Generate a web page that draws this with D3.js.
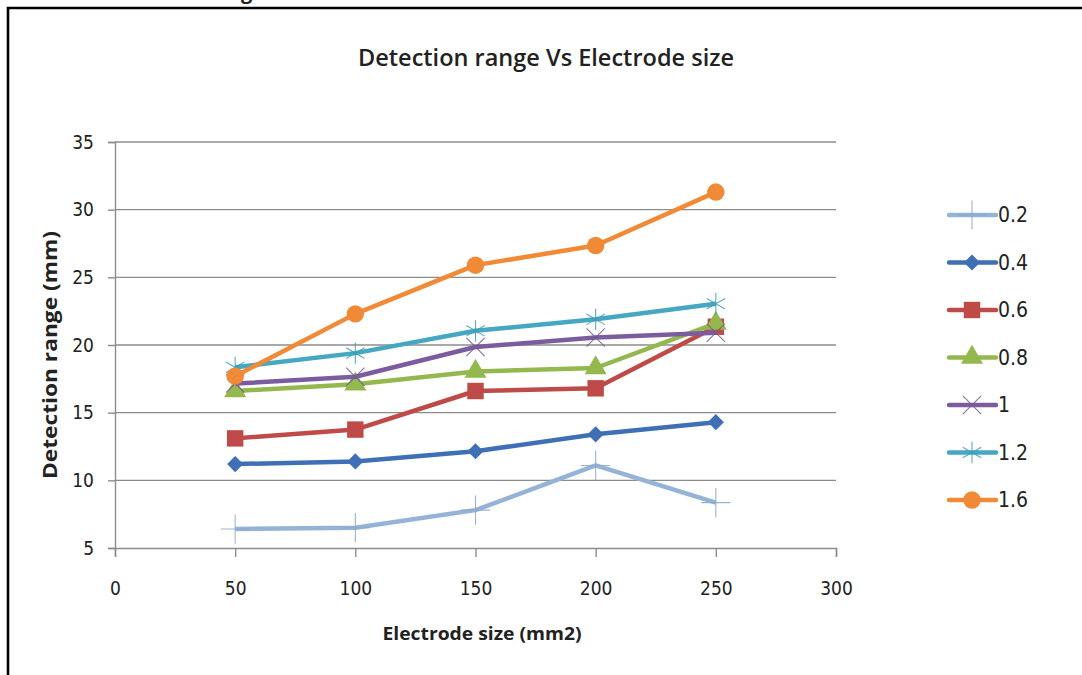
<!DOCTYPE html>
<html><head><meta charset="utf-8">
<script src="https://cdn.jsdelivr.net/npm/d3@7"></script>
<style>
html,body{margin:0;padding:0;background:#fff;}
svg{display:block;}
text{font-family:"Open Sans","Liberation Sans",sans-serif;fill:#222;}
</style></head>
<body>
<svg id="c" width="1082" height="675"></svg>
<script>
const xValues = [50, 100, 150, 200, 250];
const seriesNames = ["0.2", "0.4", "0.6", "0.8", "1", "1.2", "1.6"];
const s02 = [6.4, 6.5, 7.8, 11.1, 8.35];
const s04 = [11.2, 11.4, 12.15, 13.4, 14.3];
const s06 = [13.1, 13.75, 16.6, 16.8, 21.35];
const s08 = [16.6, 17.1, 18.05, 18.3, 21.6];
const s10 = [17.15, 17.65, 19.85, 20.55, 20.9];
const s12 = [18.35, 19.4, 21.05, 21.9, 23.05];
const s16 = [17.7, 22.3, 25.9, 27.35, 31.3];
const xTicks = [0, 50, 100, 150, 200, 250, 300];
const yTicks = [5, 10, 15, 20, 25, 30, 35];
const seriesColors = ["#95B3D7", "#3F6FB5", "#BE4B48", "#93B84E", "#7B5C9E", "#45A7C2", "#F08A36"];
const seriesMarkers = ["plus", "diamond", "square", "triangle", "times", "asterisk", "circle"];

const allValues = [s02, s04, s06, s08, s10, s12, s16];
const svg = d3.select("#c");
const condensed = "'DejaVu Sans Condensed','Liberation Sans Narrow','Open Sans',sans-serif";

// frame
svg.append("path").attr("d", "M8,680 L8,8 L1090,8").attr("fill", "none").attr("stroke", "#000").attr("stroke-width", 2.6);
svg.append("text").attr("x", 241).attr("y", -1).attr("font-size", 20).attr("font-weight", "bold").attr("fill", "#000").text("g");

const x = d3.scaleLinear().domain([0, 300]).range([115, 836]);
const y = d3.scaleLinear().domain([5, 35]).range([548, 142]);
const grid = "#8c8c8c";

// gridlines
svg.append("g").selectAll("line").data(yTicks.slice(1)).join("line")
  .attr("x1", x(0)).attr("x2", x(300)).attr("y1", d => y(d)).attr("y2", d => y(d))
  .attr("stroke", grid).attr("stroke-width", 1.4);

// y axis
const yAxis = svg.append("g").attr("transform", `translate(${x(0)},0)`)
  .call(d3.axisLeft(y).tickValues(yTicks).tickSize(7).tickPadding(14));
yAxis.select(".domain").attr("stroke", grid).attr("stroke-width", 1.4);
yAxis.selectAll(".tick line").attr("stroke", grid).attr("stroke-width", 1.4);
yAxis.selectAll(".tick text").attr("font-size", 19).attr("fill", "#333")
  .style("font-family", condensed);

// x axis
const xAxis = svg.append("g").attr("transform", `translate(0,${y(5)})`)
  .call(d3.axisBottom(x).tickValues(xTicks).tickSize(9).tickPadding(25));
xAxis.select(".domain").attr("stroke", grid).attr("stroke-width", 1.4);
xAxis.selectAll(".tick line").attr("stroke", grid).attr("stroke-width", 1.4);
xAxis.selectAll(".tick text").attr("font-size", 19).attr("fill", "#333")
  .style("font-family", condensed);

// titles
svg.append("text").attr("x", 546).attr("y", 66).attr("text-anchor", "middle")
  .attr("font-size", 23).attr("font-weight", 600).attr("fill", "#111").attr("textLength", 376).attr("lengthAdjust", "spacingAndGlyphs")
  .text("Detection range Vs Electrode size");
svg.append("text").attr("x", 482).attr("y", 640).attr("text-anchor", "middle")
  .attr("font-size", 18).attr("font-weight", "bold").attr("fill", "#111").attr("textLength", 199).attr("lengthAdjust", "spacingAndGlyphs")
  .text("Electrode size (mm2)");
svg.append("text").attr("transform", "translate(57,355) rotate(-90)").attr("text-anchor", "middle")
  .attr("font-size", 19).attr("font-weight", "bold").attr("fill", "#111").attr("textLength", 248).attr("lengthAdjust", "spacingAndGlyphs")
  .text("Detection range (mm)");

const symTypes = {
  plus: d3.symbolPlus, diamond: d3.symbolSquare, square: d3.symbolSquare,
  triangle: d3.symbolTriangle, times: d3.symbolTimes, asterisk: d3.symbolAsterisk, circle: d3.symbolCircle
};
const symSizes = {plus: 280, diamond: 130, square: 270, triangle: 210, times: 220, asterisk: 320, circle: 240};
const strokeMarkers = new Set(["plus", "times", "asterisk"]);

function drawMarker(g, type, color, cx, cy) {
  const p = g.append("path")
    .attr("d", d3.symbol().type(symTypes[type]).size(symSizes[type])())
    .attr("transform", `translate(${cx},${cy})` + (type === "diamond" ? " rotate(45)" : ""));
  if (strokeMarkers.has(type)) {
    p.attr("fill", "none").attr("stroke", d3.color(color).darker(0.2)).attr("stroke-width", 1.1).attr("opacity", 0.85);
  } else {
    p.attr("fill", color).attr("stroke", "none");
  }
}

const line = d3.line().x((d, i) => x(xValues[i])).y(d => y(d));
const plot = svg.append("g");
allValues.forEach((vals, si) => {
  const g = plot.append("g");
  g.append("path").datum(vals).attr("d", line).attr("fill", "none")
    .attr("stroke", seriesColors[si]).attr("stroke-width", 4.5).attr("stroke-linejoin", "round");
  vals.forEach((v, i) => drawMarker(g, seriesMarkers[si], seriesColors[si], x(xValues[i]), y(v)));
});

// legend
const leg = svg.append("g");
seriesNames.forEach((name, i) => {
  const ly = 215 + i * 47.5;
  const g = leg.append("g");
  g.append("line").attr("x1", 949).attr("x2", 996).attr("y1", ly).attr("y2", ly)
    .attr("stroke", seriesColors[i]).attr("stroke-width", 4.5).attr("stroke-linecap", "round");
  drawMarker(g, seriesMarkers[i], seriesColors[i], 972, ly);
  g.append("text").attr("x", 998).attr("y", ly + 7).attr("font-size", 21).attr("fill", "#222")
    .style("font-family", condensed).text(name);
});
</script>
</body></html>
